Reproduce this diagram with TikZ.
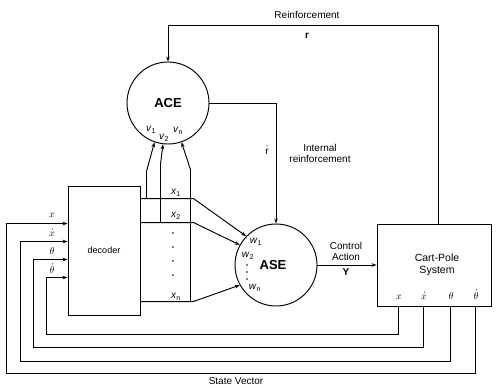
\documentclass[tikz,border=0pt]{standalone}
\usepackage{fontspec}
\setmainfont{Liberation Sans}
\usetikzlibrary{arrows.meta,calc}
\begin{document}
\begin{tikzpicture}[x=1pt,y=-1pt,
  every path/.style={line width=0.95pt},
  arr/.style={-{Stealth[length=5pt,width=3.6pt]}},
  lbl/.style={inner sep=0pt,font=\fontsize{10}{12}\selectfont},
  dotlbl/.style={lbl,append after command={\pgfextra{\fill ($(\tikzlastnode.north)+(0.6,-2.2)$) circle (0.55pt);}}},
  unit/.style={circle,draw,minimum size=82pt,inner sep=0pt,font=\bfseries\fontsize{13}{13}\selectfont},
  boxnode/.style={draw,rectangle,inner sep=0pt,align=center}]
\useasboundingbox (0,0) rectangle (496,388);

% main units
\node[unit] (ace) at (168,103) {ACE};
\node[unit] (ase) at (276,265) {\hspace*{-6pt}ASE};
\node[boxnode,minimum width=72pt,minimum height=129pt,font=\fontsize{9}{11}\selectfont] (dec) at (104,250.5) {decoder};
\node[boxnode,minimum width=114pt,minimum height=82pt] (cp) at (434,265) {};
\node[lbl,align=center,font=\fontsize{10.5}{13}\selectfont] (cptext) at (437,265) {Cart-Pole\\[-1pt]System};

% reinforcement loop
\draw[arr] ($(cp.north)+(4,0)$) -- ++(0,-198) -| (ace.north);
\node[lbl] (reinf) at (307,15) {Reinforcement};
\node[lbl,font=\bfseries\fontsize{10}{12}\selectfont] (rr) at (307,36) {r};

% internal reinforcement
\draw[arr] (ace.east) -| (ase.north);
\node[lbl] (rhat) at (267,150) {$\hat{\mathrm{r}}$};
\node[lbl,align=center] (intr) at (320,153) {Internal\\[-1pt]reinforcement};

% control action
\draw[arr] (ase.east) -- (ase.east -| cp.west);
\node[lbl,align=center] (ctrl) at (346,251) {Control\\[-1pt]Action};
\node[lbl,font=\bfseries\fontsize{10}{12}\selectfont] (yy) at (346,272) {Y};

% decoder outputs
\coordinate (d1) at ($(dec.north east)+(0,13)$);
\coordinate (d2) at ($(dec.north east)+(0,37)$);
\coordinate (dn) at ($(dec.north east)+(0,116)$);
\draw[arr] (d1) -- ++(53,0) -- (ase.136);
\draw[arr] (d2) -- ++(53,0) -- (ase.151);
\draw[arr] (dn) -- ++(53,0) -- (ase.209);
\draw[arr] ($(d1)+(6,0)$) -- ++(0,-27) -- (ace.251);
\draw[arr] ($(d2)+(20,0)$) -- ++(0,-58) -- (ace.263);
\draw[arr] ($(dn)+(50,0)$) -- ++(0,-132) -- (ace.289);

\node[lbl] (x1) at (176,193) {\textit{x}\textsubscript{1}};
\node[lbl] (x2) at (176,216) {\textit{x}\textsubscript{2}};
\node[lbl] (xn) at (176,297) {\textit{x}\textsubscript{n}};
\foreach \yy/\nm in {233/a,247/b,261/c,275/d}
  \fill (173,\yy) circle (0.9pt) coordinate (xd\nm);

\node[lbl] (v1) at (151,130) {\textit{v}\textsubscript{1}};
\node[lbl] (v2) at (164,138) {\textit{v}\textsubscript{2}};
\node[lbl] (vn) at (178,131) {\textit{v}\textsubscript{n}};

\node[lbl] (w1) at (256,242) {\textit{w}\textsubscript{1}};
\node[lbl] (w2) at (248,256) {\textit{w}\textsubscript{2}};
\node[lbl] (wn) at (255,288) {\textit{w}\textsubscript{n}};
\foreach \yy/\nm in {265/a,272/b,279/c}
  \fill (247,\yy) circle (0.8pt) coordinate (wd\nm);

% state vector feedback
\coordinate (i1) at ($(dec.north west)+(0,38)$);
\coordinate (i2) at ($(dec.north west)+(0,56)$);
\coordinate (i3) at ($(dec.north west)+(0,74)$);
\coordinate (i4) at ($(dec.north west)+(0,92)$);
\draw[arr] ($(cp.south west)+(22,0)$) |- (46,334) |- (i4);
\draw[arr] ($(cp.south west)+(47,0)$) |- (33,347) |- (i3);
\draw[arr] ($(cp.south west)+(74,0)$) |- (20,361) |- (i2);
\draw[arr] ($(cp.south west)+(99,0)$) |- (6,373) |- (i1);

\node[lbl] (lx)  at (52,215) {$x$};
\node[dotlbl] (ldx) at (52,234) {$x$};
\node[lbl] (lt)  at (52,251) {$\theta$};
\node[dotlbl] (ldt) at (52,270) {$\theta$};

\node[lbl] (cx)  at (399,297) {$x$};
\node[dotlbl] (cdx) at (424,297) {$x$};
\node[lbl] (ct)  at (451,296) {$\theta$};
\node[dotlbl] (cdt) at (476,296) {$\theta$};

\node[lbl] (sv) at (236,381) {State Vector};
\end{tikzpicture}
\end{document}
